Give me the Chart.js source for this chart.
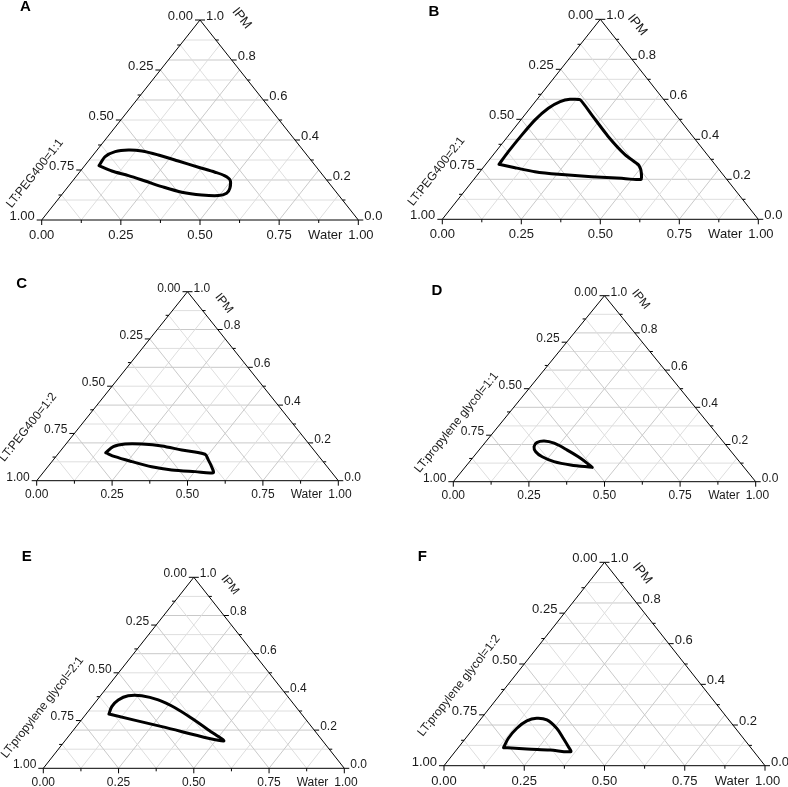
<!DOCTYPE html>
<html><head><meta charset="utf-8">
<script src="https://cdn.jsdelivr.net/npm/chart.js@4.4.1/dist/chart.umd.min.js"></script>
<style>
html,body{margin:0;padding:0;background:#fff;}
#wrap{position:relative;width:788px;height:787px;overflow:hidden;background:#fff;}
#wrap canvas{position:absolute;left:0;top:0;}
</style></head><body><div id="wrap"></div>
<script>
// ---------- data ----------
const panelIds = ['A','B','C','D','E','F'];
const leftAxisTitles = ['LT:PEG400=1:1','LT:PEG400=2:1','LT:PEG400=1:2',
  'LT:propylene glycol=1:1','LT:propylene glycol=2:1','LT:propylene glycol=1:2'];
const bottomAxisTitle = 'Water';
const rightAxisTitle = 'IPM';
const bottomTickValues = [0, 0.25, 0.5, 0.75, 1];
const bottomTickLabels = ['0.00','0.25','0.50','0.75','1.00'];
const leftTickValues = [0, 0.25, 0.5, 0.75, 1];
const leftTickLabels = ['0.00','0.25','0.50','0.75','1.00'];
const rightTickValues = [0, 0.2, 0.4, 0.6, 0.8, 1];
const rightTickLabels = ['0.0','0.2','0.4','0.6','0.8','1.0'];

// boundary of each region: water fraction and IPM fraction (LT:cosurfactant = rest)
const waterA = [0.045,0.042,0.061,0.099,0.144,0.206,0.284,0.363,0.428,0.466,0.495,0.515,0.517,0.497,0.443,0.373,0.296,0.229,0.163,0.099];
const ipmA   = [0.272,0.317,0.342,0.350,0.345,0.325,0.295,0.264,0.239,0.222,0.200,0.159,0.134,0.122,0.125,0.139,0.167,0.195,0.222,0.245];
const waterB = [0.042,0.040,0.041,0.045,0.058,0.079,0.104,0.138,0.212,0.319,0.418,0.485,0.505,0.529,0.465,0.366,0.255,0.174,0.101];
const ipmB   = [0.275,0.338,0.422,0.497,0.555,0.588,0.600,0.597,0.522,0.413,0.322,0.272,0.247,0.200,0.205,0.213,0.225,0.238,0.258];
const waterC = [0.155,0.164,0.196,0.251,0.323,0.400,0.488,0.514,0.543,0.564,0.501,0.419,0.344,0.265,0.196];
const ipmC   = [0.148,0.180,0.194,0.194,0.184,0.162,0.140,0.110,0.074,0.042,0.048,0.057,0.074,0.101,0.127];
const waterD = [0.421,0.358,0.292,0.230,0.191,0.171,0.173,0.192,0.227,0.279,0.343];
const ipmD   = [0.077,0.126,0.170,0.207,0.219,0.210,0.188,0.161,0.134,0.108,0.090];
const waterE = [0.076,0.066,0.070,0.092,0.137,0.203,0.279,0.362,0.448,0.527,0.285];
const ipmE   = [0.284,0.323,0.358,0.380,0.380,0.358,0.317,0.262,0.201,0.143,0.218];
const waterF = [0.141,0.133,0.135,0.148,0.172,0.208,0.259,0.304,0.341,0.360,0.292,0.217];
const ipmF   = [0.089,0.135,0.184,0.220,0.233,0.225,0.184,0.135,0.093,0.069,0.077,0.082];

const waterSeries = [waterA, waterB, waterC, waterD, waterE, waterF];
const ipmSeries = [ipmA, ipmB, ipmC, ipmD, ipmE, ipmF];

// ---------- layout (positions / sizes / styles) ----------
const W = 788, H = 787;
const layouts = [
  {tri:[41.7,358.3,20,220],     fs:13, letter:[25.3,7],    ipm:[241.7,18.3], title:[35,173.5],   tension:0.3},
  {tri:[442.3,758.3,19.3,219.3],fs:13, letter:[434,11.7],  ipm:[637.3,25],   title:[436.5,171.5],tension:0.15},
  {tri:[36.7,338.3,291.7,480.7],fs:12, letter:[21.7,284.3],ipm:[224,303.3],  title:[28,427.3],   tension:0.3},
  {tri:[453.3,755.7,295.7,481.7],fs:12,letter:[437,290.8], ipm:[640.7,299.3],title:[456.5,422.5],tension:0.35},
  {tri:[43.3,344.3,577.3,768.3],fs:12, letter:[26.7,556.7],ipm:[230,585],    title:[42.5,707.5], tension:0.3},
  {tri:[444,765,562.3,765.7],   fs:13, letter:[422.3,556.7],ipm:[642.3,573.3],title:[459,685.8], tension:0.35}
];
const TITLE_FS = 12;
const FONT = '"Liberation Sans", Arial, Helvetica, sans-serif';

function P(chart, w, i) {
  return [chart.scales.x.getPixelForValue(w + i / 2), chart.scales.y.getPixelForValue(i)];
}
function seg(ctx, a, b) { ctx.beginPath(); ctx.moveTo(a[0], a[1]); ctx.lineTo(b[0], b[1]); ctx.stroke(); }

const ternaryPlugin = {
  id: 'ternary',
  beforeDatasetsDraw(chart, args, o) {
    const ctx = chart.ctx;
    ctx.save();
    ctx.lineWidth = 1;
    for (let k = 1; k < 10; k++) {           // IPM constant
      const i = k / 10;
      ctx.strokeStyle = (k % 2 === 0) ? '#c9c9c9' : '#dedede';
      seg(ctx, P(chart, 0, i), P(chart, 1 - i, i));
    }
    for (let k = 1; k < 8; k++) {            // water constant & LT constant
      const v = k / 8;
      ctx.strokeStyle = (k % 2 === 0) ? '#c9c9c9' : '#dedede';
      seg(ctx, P(chart, v, 0), P(chart, v, 1 - v));
      seg(ctx, P(chart, 1 - v, 0), P(chart, 0, 1 - v));
    }
    ctx.restore();
  },
  afterDatasetsDraw(chart, args, o) {
    const ctx = chart.ctx;
    ctx.save();
    ctx.strokeStyle = '#000'; ctx.lineWidth = 1;
    const a = P(chart, 0, 0), b = P(chart, 1, 0), c = P(chart, 0, 1);
    ctx.beginPath(); ctx.moveTo(a[0], a[1]); ctx.lineTo(b[0], b[1]); ctx.lineTo(c[0], c[1]); ctx.closePath(); ctx.stroke();
    // ticks
    for (let k = 0; k <= 8; k++) {
      const v = k / 8, len = (k % 2 === 0) ? 5 : 3;
      const pb = P(chart, v, 0); seg(ctx, pb, [pb[0], pb[1] + len]);
      const pl = P(chart, 0, 1 - v); seg(ctx, pl, [pl[0] - len, pl[1]]);
    }
    for (let k = 0; k <= 10; k++) {
      const i = k / 10, len = (k % 2 === 0) ? 5 : 3;
      const pr = P(chart, 1 - i, i); seg(ctx, pr, [pr[0] + len, pr[1]]);
    }
    // labels
    const fs = o.fs;
    ctx.fillStyle = '#1a1a1a';
    ctx.font = fs + 'px ' + FONT;
    ctx.textBaseline = 'middle';
    bottomTickValues.forEach((v, k) => {
      const p = P(chart, v, 0);
      if (k === bottomTickValues.length - 1) {
        ctx.textAlign = 'left'; ctx.fillText(bottomTickLabels[k], p[0] - 10, p[1] + fs * 1.2);
        ctx.textAlign = 'right'; ctx.fillText(bottomAxisTitle, p[0] - 16, p[1] + fs * 1.2);
      } else {
        ctx.textAlign = 'center'; ctx.fillText(bottomTickLabels[k], p[0], p[1] + fs * 1.2);
      }
    });
    ctx.textAlign = 'right';
    leftTickValues.forEach((s, k) => {
      const p = P(chart, 0, 1 - s);
      ctx.fillText(leftTickLabels[k], p[0] - 7, p[1] - 3.5);
    });
    ctx.textAlign = 'left';
    rightTickValues.forEach((i, k) => {
      const p = P(chart, 1 - i, i);
      ctx.fillText(rightTickLabels[k], p[0] + 6, p[1] - 3.5);
    });
    const ang = Math.atan2(a[1] - c[1], c[0] - a[0]);
    // right axis title
    ctx.save(); ctx.translate(o.ipm[0], o.ipm[1]); ctx.rotate(ang);
    ctx.textAlign = 'center'; ctx.fillText(rightAxisTitle, 0, 0); ctx.restore();
    // left axis title
    ctx.font = TITLE_FS + 'px ' + FONT;
    ctx.save(); ctx.translate(o.title[0], o.title[1]); ctx.rotate(-ang);
    ctx.textAlign = 'center'; ctx.fillText(o.titleText, 0, 0); ctx.restore();
    // panel letter
    ctx.font = 'bold 15px ' + FONT; ctx.textAlign = 'center'; ctx.fillStyle = '#000';
    ctx.fillText(o.letter, o.letterPos[0], o.letterPos[1]);
    ctx.restore();
  }
};

const wrap = document.getElementById('wrap');
panelIds.forEach((id, n) => {
  const L = layouts[n];
  const cv = document.createElement('canvas');
  cv.width = W; cv.height = H;
  cv.style.width = W + 'px'; cv.style.height = H + 'px';
  wrap.appendChild(cv);
  const wv = waterSeries[n], iv = ipmSeries[n];
  const pts = wv.map((w, k) => ({x: w + iv[k] / 2, y: iv[k]}));
  pts.push({x: pts[0].x, y: pts[0].y});
  new Chart(cv, {
    type: 'scatter',
    data: {datasets: [{label: leftAxisTitles[n], data: pts, showLine: true, borderColor: '#000',
      borderWidth: 3, pointRadius: 0, pointHoverRadius: 0, tension: L.tension, fill: false,
      borderJoinStyle: 'round', borderCapStyle: 'round', clip: false}]},
    options: {
      responsive: false, animation: false, devicePixelRatio: 1,
      layout: {padding: {left: L.tri[0], right: W - L.tri[1], top: L.tri[2], bottom: H - L.tri[3]}},
      scales: {
        x: {type: 'linear', min: 0, max: 1, display: false},
        y: {type: 'linear', min: 0, max: 1, display: false}
      },
      plugins: {
        legend: {display: false}, tooltip: {enabled: false},
        ternary: {fs: L.fs, letter: id, letterPos: L.letter, ipm: L.ipm, title: L.title, titleText: leftAxisTitles[n]}
      }
    },
    plugins: [ternaryPlugin]
  });
});
</script></body></html>
